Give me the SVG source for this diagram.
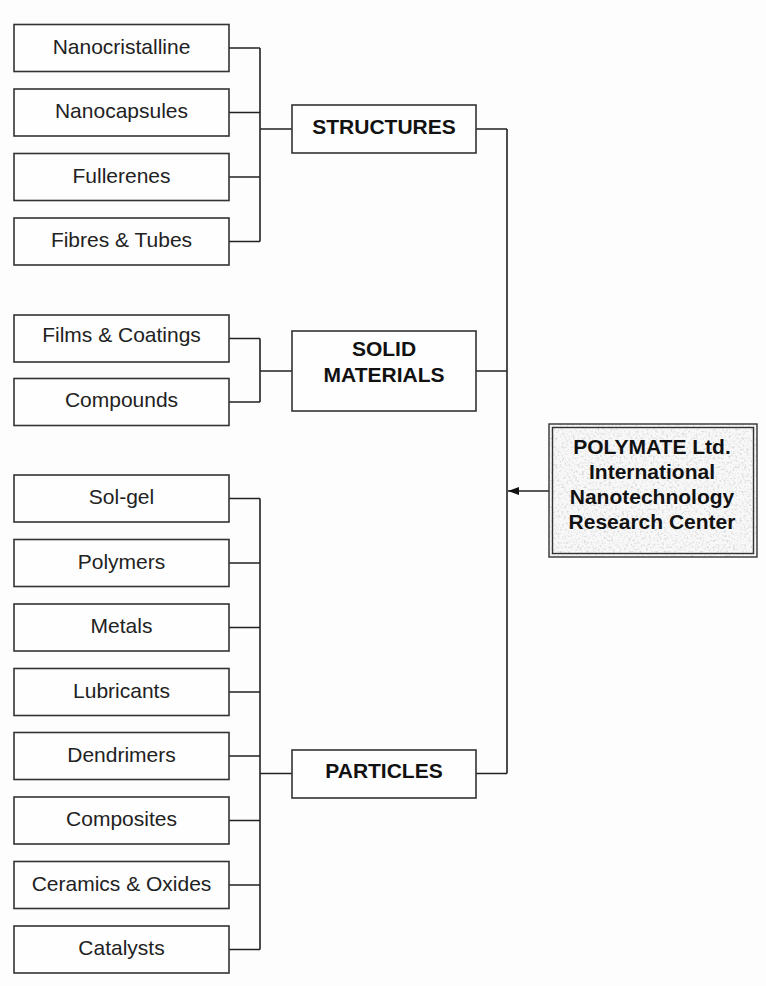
<svg xmlns="http://www.w3.org/2000/svg" width="766" height="986" viewBox="0 0 766 986">
<defs>
<style>
.box{fill:#fefefe;stroke:#333;stroke-width:1.6}
.leaf{font-family:"Liberation Sans",Arial,sans-serif;font-size:21px;fill:#222;text-anchor:middle}
.mid{font-family:"Liberation Sans",Arial,sans-serif;font-size:21px;font-weight:bold;fill:#111;text-anchor:middle}
.conn{fill:none;stroke:#222;stroke-width:1.6}
</style>
<marker id="arr" markerWidth="11" markerHeight="8" refX="11" refY="4" orient="auto" markerUnits="userSpaceOnUse">
<path d="M0,0 L11,4 L0,8 Z" fill="#111"/>
</marker>
<filter id="granite" x="0" y="0" width="100%" height="100%">
<feTurbulence type="fractalNoise" baseFrequency="0.45" numOctaves="3" seed="7" result="n"/>
<feColorMatrix in="n" type="matrix" values="0 0 0 0 0.7  0 0 0 0 0.7  0 0 0 0 0.7  3.5 0 0 0 -1.75"/>
</filter>
</defs>
<rect x="0" y="0" width="766" height="986" fill="#fdfdfd"/>

<g id="connectors">
<path class="conn" d="M229,48 H260 M229,112.5 H260 M229,177 H260 M229,241.5 H260 M260,48 V241.5 M260,129 H292"/>
<path class="conn" d="M229,338.5 H260 M229,402 H260 M260,338.5 V402 M260,371 H292"/>
<path class="conn" d="M229,498.5 H260 M229,563 H260 M229,627.5 H260 M229,692 H260 M229,756 H260 M229,820.5 H260 M229,885 H260 M229,949.5 H260 M260,498.5 V949.5 M260,773.5 H292"/>
<path class="conn" d="M476,129 H507 M476,371 H507 M476,773.5 H507 M507,129 V773.5"/>
<path class="conn" d="M549,491 H508" marker-end="url(#arr)"/>
</g>

<g id="n-nanocristalline"><rect class="box" x="14" y="24.5" width="215" height="47"/><text class="leaf" x="121.5" y="53.5">Nanocristalline</text></g>
<g id="n-nanocapsules"><rect class="box" x="14" y="89" width="215" height="47"/><text class="leaf" x="121.5" y="118">Nanocapsules</text></g>
<g id="n-fullerenes"><rect class="box" x="14" y="153.5" width="215" height="47"/><text class="leaf" x="121.5" y="182.5">Fullerenes</text></g>
<g id="n-fibres"><rect class="box" x="14" y="218" width="215" height="47"/><text class="leaf" x="121.5" y="247">Fibres &amp; Tubes</text></g>

<g id="n-films"><rect class="box" x="14" y="315" width="215" height="47"/><text class="leaf" x="121.5" y="342">Films &amp; Coatings</text></g>
<g id="n-compounds"><rect class="box" x="14" y="378.5" width="215" height="47"/><text class="leaf" x="121.5" y="407">Compounds</text></g>

<g id="n-solgel"><rect class="box" x="14" y="475" width="215" height="47"/><text class="leaf" x="121.5" y="504">Sol-gel</text></g>
<g id="n-polymers"><rect class="box" x="14" y="539.5" width="215" height="47"/><text class="leaf" x="121.5" y="568.5">Polymers</text></g>
<g id="n-metals"><rect class="box" x="14" y="604" width="215" height="47"/><text class="leaf" x="121.5" y="633">Metals</text></g>
<g id="n-lubricants"><rect class="box" x="14" y="668.5" width="215" height="47"/><text class="leaf" x="121.5" y="697.5">Lubricants</text></g>
<g id="n-dendrimers"><rect class="box" x="14" y="732.5" width="215" height="47"/><text class="leaf" x="121.5" y="761.5">Dendrimers</text></g>
<g id="n-composites"><rect class="box" x="14" y="797" width="215" height="47"/><text class="leaf" x="121.5" y="826">Composites</text></g>
<g id="n-ceramics"><rect class="box" x="14" y="861.5" width="215" height="47"/><text class="leaf" x="121.5" y="890.5">Ceramics &amp; Oxides</text></g>
<g id="n-catalysts"><rect class="box" x="14" y="926" width="215" height="47"/><text class="leaf" x="121.5" y="955">Catalysts</text></g>

<g id="n-structures"><rect class="box" x="292" y="105" width="184" height="48"/><text class="mid" x="384" y="134">STRUCTURES</text></g>
<g id="n-solid"><rect class="box" x="292" y="331" width="184" height="80"/><text class="mid" x="384" y="356">SOLID</text><text class="mid" x="384" y="382">MATERIALS</text></g>
<g id="n-particles"><rect class="box" x="292" y="750" width="184" height="48"/><text class="mid" x="384" y="778">PARTICLES</text></g>

<g id="n-polymate">
<rect x="549" y="424" width="208" height="133" fill="#f8f8f8"/>
<rect x="549" y="424" width="208" height="133" filter="url(#granite)"/>
<rect x="549" y="424" width="208" height="133" fill="none" stroke="#333" stroke-width="1.4"/>
<rect x="552.5" y="427.5" width="201" height="126" fill="none" stroke="#333" stroke-width="1.4"/>
<text class="mid" x="652" y="454">POLYMATE Ltd.</text>
<text class="mid" x="652" y="479">International</text>
<text class="mid" x="652" y="504">Nanotechnology</text>
<text class="mid" x="652" y="529">Research Center</text>
</g>
</svg>
